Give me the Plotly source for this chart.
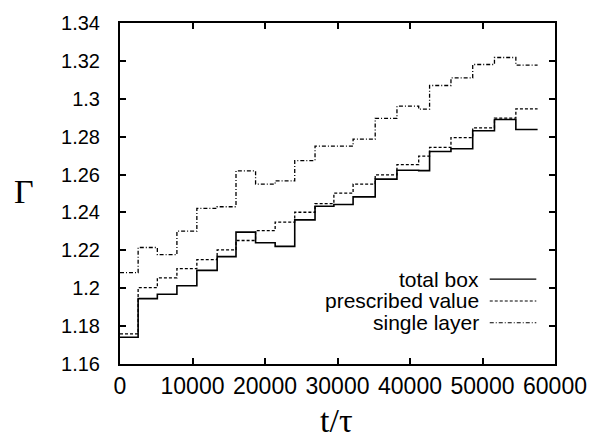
import plotly.graph_objects as go

# Block boundaries in t/tau (each value holds from its edge up to the next edge)
t_edges = [0, 2500, 5150, 7850, 10600, 13400, 16000, 18700, 21400, 24100, 26900,
           29500, 32150, 35200, 38200, 41200, 42700, 45650, 48650, 51650, 54600, 57600]

gamma_total_box = [1.1741, 1.1945, 1.1968, 1.2013, 1.2094, 1.2167, 1.2296, 1.2240,
                   1.2221, 1.2361, 1.2433, 1.2442, 1.2482, 1.2576, 1.2623, 1.2621,
                   1.2722, 1.2736, 1.2831, 1.2891, 1.2838]
gamma_prescribed = [1.1759, 1.2003, 1.2055, 1.2103, 1.2151, 1.2202, 1.2252, 1.2304,
                    1.2349, 1.2401, 1.2447, 1.2502, 1.2550, 1.2598, 1.2652, 1.2697,
                    1.2743, 1.2795, 1.2846, 1.2898, 1.2947]
gamma_single_layer = [1.2082, 1.2215, 1.2177, 1.2301, 1.2421, 1.2430, 1.2619, 1.2550,
                      1.2567, 1.2674, 1.2750, 1.2750, 1.2787, 1.2897, 1.2961, 1.2945,
                      1.3070, 1.3110, 1.3181, 1.3218, 1.3178]

series_names = ["total box", "prescribed value", "single layer"]

x_tick_vals = [0, 10000, 20000, 30000, 40000, 50000, 60000]
x_tick_text = ["0", "10000", "20000", "30000", "40000", "50000", "60000"]
y_tick_vals = [1.16, 1.18, 1.20, 1.22, 1.24, 1.26, 1.28, 1.30, 1.32, 1.34]
y_tick_text = ["1.16", "1.18", "1.2", "1.22", "1.24", "1.26", "1.28", "1.3", "1.32", "1.34"]

styles = [
    dict(color="black", width=1.6, dash="solid"),
    dict(color="black", width=1.3, dash="3px,2px"),
    dict(color="black", width=1.3, dash="4px,2px,1px,2px"),
]

fig = go.Figure()
for name, vals, st in zip(series_names,
                          [gamma_total_box, gamma_prescribed, gamma_single_layer],
                          styles):
    fig.add_trace(go.Scatter(
        x=t_edges, y=vals + [vals[-1]], mode="lines", line_shape="hv",
        line=st, name=name, showlegend=False, hoverinfo="skip"))

# Key in the lower right: right-aligned labels with a line sample after each
key_rows_y = [0.249, 0.185, 0.121]
for name, st, yk in zip(series_names, styles, key_rows_y):
    fig.add_annotation(x=0.827, y=yk, xref="paper", yref="paper", text=name,
                       showarrow=False, xanchor="right", yanchor="middle",
                       borderpad=0,
                       font=dict(family="Liberation Sans, Arial", size=21, color="black"))
    fig.add_shape(type="line", xref="paper", yref="paper", x0=0.85, x1=0.957,
                  y0=yk, y1=yk, line=dict(color=st["color"], width=st["width"] * 0.8,
                                           dash=st["dash"]))

# Axis titles
fig.add_annotation(x=-0.22, y=0.507, xref="paper", yref="paper", text="\u0393",
                   showarrow=False, xanchor="center", yanchor="middle",
                   font=dict(family="Liberation Serif, Times New Roman", size=34, color="black"))
fig.add_annotation(x=0.498, y=-0.2235, xref="paper", yref="paper", text="t/\u03c4",
                   showarrow=False, xanchor="center", yanchor="bottom", borderpad=0,
                   font=dict(family="Liberation Serif, Times New Roman", size=34, color="black"))

axis_common = dict(showline=True, linecolor="black", linewidth=2, mirror="ticks",
                   ticks="inside", ticklen=6, tickwidth=1.5, tickcolor="black",
                   showgrid=False, zeroline=False)

fig.update_xaxes(range=[0, 60000], tickvals=x_tick_vals, ticktext=x_tick_text,
                 tickfont=dict(family="Liberation Sans, Arial", size=23, color="black"),
                 ticklabelstandoff=0, **axis_common)
fig.update_yaxes(range=[1.16, 1.34], tickvals=y_tick_vals, ticktext=y_tick_text,
                 tickfont=dict(family="Liberation Sans, Arial", size=20, color="black"),
                 ticklabelstandoff=14, **axis_common)

fig.update_layout(width=599, height=442, margin=dict(l=120, r=33, t=15, b=78),
                  paper_bgcolor="white", plot_bgcolor="white", showlegend=False)

fig.write_html("out.html")
